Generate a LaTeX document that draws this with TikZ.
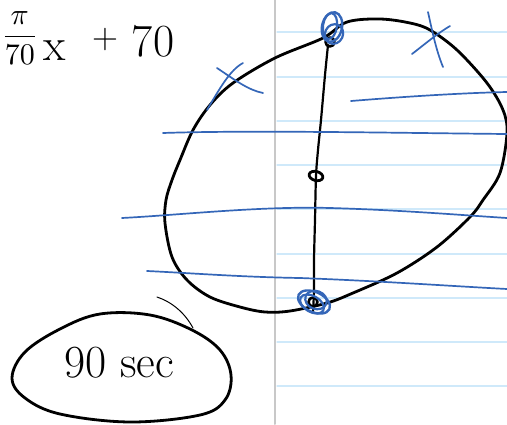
\documentclass[tikz,border=0pt]{standalone}
\usepackage{fontspec}
\usepackage{graphicx}
\begin{document}
\begin{tikzpicture}[x=1pt,y=-1pt,line cap=round,line join=round,
  ink/.style={black,line width=2.8pt},
  blueink/.style={draw=penblue,line width=1.7pt},
  ruled/.style={draw=ruleblue,line width=1.2pt},
  hand/.style={inner sep=0pt,font=\fontsize{46}{50}\selectfont},
  handsmall/.style={inner sep=0pt,font=\fontsize{36}{40}\selectfont}]
\definecolor{penblue}{HTML}{3466B8}
\definecolor{ruleblue}{HTML}{CFE9FA}
\definecolor{margin}{HTML}{C8C8C8}
\useasboundingbox (0,0) rectangle (507,424);
\fill[white] (0,0) rectangle (507,424);
% ruled lines
\foreach \yy in {32,77,121,165,209,254,298,342,386}
  \draw[ruled] (277,\yy) -- (507,\yy);
\draw[margin,line width=2pt] (275,0) -- (275,424);
% formula
\node[inner sep=0pt,anchor=west] (frac) at (1,38) {\scalebox{3}{$\displaystyle\frac{\pi}{70}$}};
\node[hand,anchor=base] (x) at (55,60) {x};
\node[handsmall,anchor=center] (plus) at (105,40) {+};
\node[hand,anchor=base] (seventy) at (153,56) {70};
% big ellipse
\draw[ink] plot[smooth cycle,tension=0.55] coordinates {
 (347,22) (380,19) (410,23) (430,30) (457,50) (487,83) (503,110) (507,133)
 (500,173) (483,200) (470,217) (437,247) (397,273) (353,293) (327,303)
 (290,311) (265,312) (240,307) (210,297) (187,280) (172,257) (165,223)
 (166,200) (172,180) (180,160) (193,130) (210,105) (233,83) (275,58) (323,38)};
% vertical line
\draw[black,line width=2.2pt] plot[smooth,tension=0.5] coordinates {
 (328,45) (325,75) (321,120) (318,150) (316,176) (315,220) (314,260) (314,290) (313,312)};
\draw[black,line width=2.6pt] (330,42) circle[radius=4.5];
\draw[black,line width=2.6pt] (313,302) circle[radius=4.5];
\draw[black,line width=2.8pt] (316,176) ellipse[x radius=7,y radius=4.5,rotate=-15];
% blue scribbles
\draw[blueink,line width=2.4pt] (332,27) ellipse[x radius=10,y radius=15,rotate=-12];
\draw[blueink,line width=2.2pt] (330,26) ellipse[x radius=7,y radius=13,rotate=-8];
\draw[blueink,line width=2.2pt] (334,34) ellipse[x radius=9,y radius=10,rotate=-25];
\draw[blueink,line width=2.4pt] (314,302) ellipse[x radius=17,y radius=10,rotate=-25];
\draw[blueink,line width=2.2pt] (312,304) ellipse[x radius=13,y radius=8,rotate=-30];
\draw[blueink,line width=2.2pt] (316,300) ellipse[x radius=11,y radius=9,rotate=-20];
% crosses
\draw[blueink] (207,110) .. controls (220,88) and (230,70) .. (243,63);
\draw[blueink] (217,68) .. controls (235,80) and (248,90) .. (263,93);
\draw[blueink] (428,12) .. controls (432,30) and (436,50) .. (443,67);
\draw[blueink] (412,54) .. controls (425,44) and (438,33) .. (450,26);
% blue lines
\draw[blueink] (351,101) .. controls (400,97) and (460,93) .. (507,92);
\draw[blueink] (163,133) .. controls (250,130) and (400,133) .. (507,134);
\draw[blueink] (122,218) .. controls (180,215) and (260,206) .. (330,208) .. controls (400,210) and (460,215) .. (507,218);
\draw[blueink] (147,271) .. controls (190,273) and (240,277) .. (300,278) .. controls (380,281) and (450,286) .. (507,289);
% 90 sec oval
\draw[ink] plot[smooth cycle,tension=0.6] coordinates {
 (100,314) (150,315) (192,330) (220,350) (231,375) (225,400) (200,415)
 (130,422) (60,414) (25,398) (12,378) (25,352) (60,329)};
\draw[black,line width=1pt] (157,297) .. controls (172,302) and (185,313) .. (193,328);
\node[hand,anchor=base] (sec) at (119,377) {90 sec};
\end{tikzpicture}
\end{document}
